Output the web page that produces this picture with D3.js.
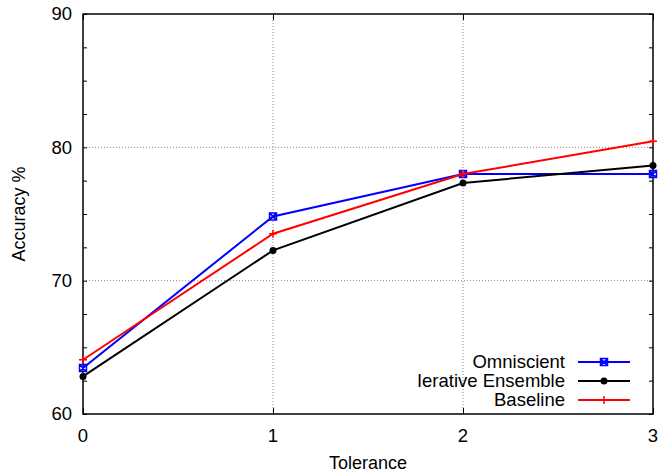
<!DOCTYPE html>
<html>
<head>
<meta charset="utf-8">
<script src="https://cdn.jsdelivr.net/npm/d3@7"></script>
<style>
  body { margin: 0; background: #fff; }
  text { font-family: "Liberation Sans", Arial, sans-serif; fill: #000; }
</style>
</head>
<body>
<svg id="chart"></svg>
<script>
const tolerance = [0, 1, 2, 3];
const omniscient = [63.45, 74.82, 78.0, 78.0];
const ensemble = [62.82, 72.27, 77.33, 78.63];
const baseline = [64.07, 73.52, 78.0, 80.45];
const seriesNames = ["Omniscient", "Ierative Ensemble", "Baseline"];
const yMajor = [60, 70, 80, 90];

const width = 662, height = 472;
const margin = { top: 14, right: 9, bottom: 58, left: 83 };

const svg = d3.select("#chart").attr("width", width).attr("height", height);

const x = d3.scaleLinear().domain([0, 3]).range([margin.left, width - margin.right]);
const y = d3.scaleLinear().domain([60, 90]).range([height - margin.bottom, margin.top]);

// grid lines
const grid = svg.append("g");
grid.selectAll(".gx").data(tolerance.slice(1, 3)).join("line")
    .attr("x1", d => x(d)).attr("x2", d => x(d))
    .attr("y1", y(60)).attr("y2", y(90))
    .attr("stroke", "#888").attr("stroke-width", 1).attr("stroke-dasharray", "1,2");
grid.selectAll(".gy").data(yMajor.slice(1, 3)).join("line")
    .attr("x1", x(0)).attr("x2", x(3))
    .attr("y1", d => y(d)).attr("y2", d => y(d))
    .attr("stroke", "#888").attr("stroke-width", 1).attr("stroke-dasharray", "1,2");

// axes (ticks on all four sides, pointing inward)
const yMinor = d3.range(60, 90.01, 2.5);
svg.append("g").attr("transform", `translate(${x(0)},0)`)
    .call(d3.axisRight(y).tickValues(yMinor).tickSize(4).tickFormat(""));
svg.append("g").attr("transform", `translate(${x(3)},0)`)
    .call(d3.axisLeft(y).tickValues(yMinor).tickSize(4).tickFormat(""));
svg.append("g").attr("transform", `translate(0,${y(60)})`)
    .call(d3.axisTop(x).tickValues(tolerance).tickSize(6).tickFormat(""));
svg.append("g").attr("transform", `translate(0,${y(90)})`)
    .call(d3.axisBottom(x).tickValues(tolerance).tickSize(6).tickFormat(""));
svg.selectAll(".domain").remove();
svg.selectAll(".tick line").attr("stroke", "#000");

svg.append("rect")
    .attr("x", x(0)).attr("y", y(90))
    .attr("width", x(3) - x(0)).attr("height", y(60) - y(90))
    .attr("fill", "none").attr("stroke", "#000").attr("stroke-width", 1.5);

// tick labels
svg.selectAll(".ylab").data(yMajor).join("text")
    .attr("x", x(0) - 11).attr("y", d => y(d))
    .attr("dy", "0.35em").attr("text-anchor", "end")
    .style("font-size", "18.5px").text(d => d);
svg.selectAll(".xlab").data(tolerance).join("text")
    .attr("x", d => x(d)).attr("y", y(60) + 28)
    .attr("text-anchor", "middle")
    .style("font-size", "18.5px").text(d => d);

svg.append("text")
    .attr("x", (x(0) + x(3)) / 2).attr("y", height - 3)
    .attr("text-anchor", "middle").style("font-size", "18px").text("Tolerance");
svg.append("text")
    .attr("transform", `translate(25,${(y(60) + y(90)) / 2}) rotate(-90)`)
    .attr("text-anchor", "middle").style("font-size", "18px").text("Accuracy %");

// series
const series = [
    { name: seriesNames[0], values: omniscient, color: "#0000ff", marker: "xbox" },
    { name: seriesNames[1], values: ensemble, color: "#000000", marker: "dot" },
    { name: seriesNames[2], values: baseline, color: "#ff0000", marker: "plus" }
];

const line = d3.line().x((d, i) => x(tolerance[i])).y(d => y(d));

function drawMarker(g, type, color) {
    if (type === "dot") {
        g.append("circle").attr("r", 3.5).attr("fill", color);
    } else if (type === "plus") {
        g.append("path").attr("d", "M-4,0H4M0,-4V4")
            .attr("stroke", color).attr("stroke-width", 1.5).attr("fill", "none");
    } else {
        g.append("path").attr("d", "M-3.5,-3.5H3.5V3.5H-3.5Z M-3.5,-3.5L3.5,3.5M3.5,-3.5L-3.5,3.5")
            .attr("stroke", color).attr("stroke-width", 1.5).attr("fill", "none");
    }
}

series.forEach(s => {
    svg.append("path").datum(s.values)
        .attr("d", line).attr("fill", "none")
        .attr("stroke", s.color).attr("stroke-width", 2);
    s.values.forEach((v, i) => {
        const g = svg.append("g").attr("transform", `translate(${x(tolerance[i])},${y(v)})`);
        drawMarker(g, s.marker, s.color);
    });
});

// legend
const legend = svg.append("g");
series.forEach((s, i) => {
    const ly = 362 + i * 19;
    legend.append("text")
        .attr("x", 565).attr("y", ly).attr("dy", "0.35em")
        .attr("text-anchor", "end").style("font-size", "18.5px").text(s.name);
    legend.append("line")
        .attr("x1", 578).attr("x2", 630).attr("y1", ly).attr("y2", ly)
        .attr("stroke", s.color).attr("stroke-width", 2);
    const g = legend.append("g").attr("transform", `translate(604,${ly})`);
    drawMarker(g, s.marker, s.color);
});
</script>
</body>
</html>
